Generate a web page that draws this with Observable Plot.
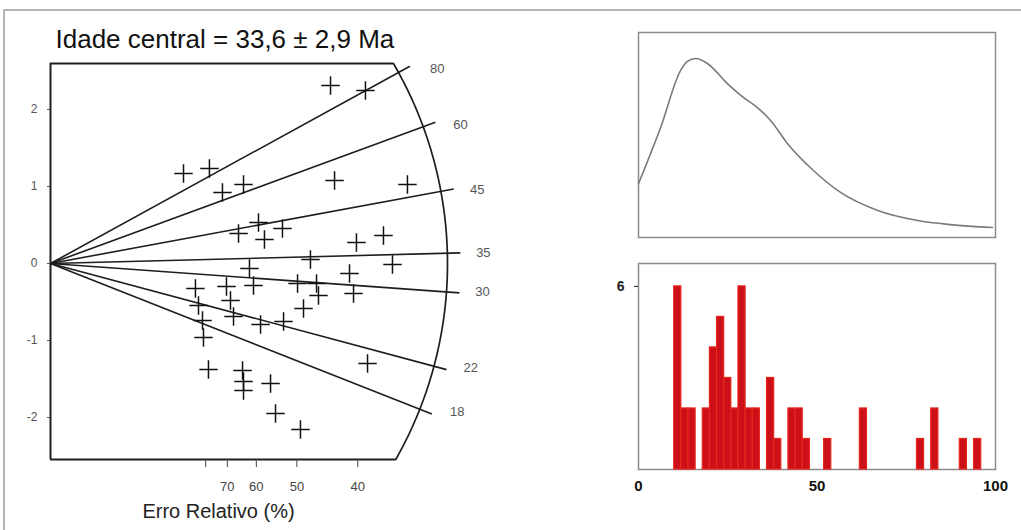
<!DOCTYPE html>
<html>
<head>
<meta charset="utf-8">
<script src="https://cdn.jsdelivr.net/npm/d3@7"></script>
<script src="https://cdn.jsdelivr.net/npm/@observablehq/plot@0.6"></script>
<style>
  html, body { margin: 0; padding: 0; background: #fff; }
  #fig { position: relative; width: 1021px; height: 530px; overflow: hidden; background: #fff;
         font-family: "Liberation Sans", Arial, sans-serif; }
  #fig .edge-top { position: absolute; left: 3px; top: 9px; right: 0; border-top: 2px solid #b4b4b4; }
  #fig .edge-left { position: absolute; left: 3px; top: 9px; bottom: 0; border-left: 2px solid #b4b4b4; }
  #fig .panel { position: absolute; }
</style>
</head>
<body>
<div id="fig"><div class="edge-top"></div><div class="edge-left"></div></div>
<script>
// ---- Radial plot: central age and labelled age rays (Ma)
const centralAge = 33.6;
const ageRays = [80, 60, 45, 35, 30, 22, 18];

// ---- Grains: precision (1 / relative error) and standardised estimate
const precision = [
  2.301, 2.588, 1.093, 1.306, 1.413, 1.586, 2.334, 2.933, 1.709, 1.545,
  1.758, 1.906, 2.514, 2.736, 2.136, 1.635, 2.810, 2.457, 1.191, 1.446,
  1.668, 2.030, 2.186, 2.202, 2.490, 1.479, 1.216, 2.079, 1.504, 1.249,
  1.726, 1.915, 1.257, 1.298, 1.578, 1.586, 1.586, 1.808, 1.849, 2.054,
  2.605
];
const zScore = [
   2.312,  2.247,  1.169,  1.234,  0.922,  1.026,  1.078,  1.026,  0.532,  0.390,
   0.312,  0.455,  0.273,  0.364,  0.052, -0.065, -0.013, -0.130, -0.325, -0.299,
  -0.286, -0.260, -0.260, -0.416, -0.390, -0.481, -0.545, -0.584, -0.688, -0.740,
  -0.792, -0.753, -0.961, -1.377, -1.390, -1.532, -1.649, -1.558, -1.948, -2.156,
  -1.299
];

// ---- Axis ticks
const zTicks = [-2, -1, 0, 1, 2];
const relErrTicks = [80, 70, 60, 50, 40];          // relative error, %
const relErrLabels = ["", "70", "60", "50", "40"];

// ---- Age histogram (2 Ma bins)
const binWidth = 2;
const binStart = [10, 12, 14, 18, 20, 22, 24, 26, 28, 30, 32, 36, 38, 42, 44, 46, 52, 62, 78, 82, 90, 94];
const binCount = [ 6,  2,  2,  2,  4,  5,  3,  2,  6,  2,  2,  3,  1,  2,  2,  1,  1,  2,  1,  2,  1,  1];

// ---- Probability density curve
const densityAge   = [0, 6.2, 11.8, 13.7, 16.0, 19.3, 24.9, 29.4, 33.3, 37.0, 41.7, 49.0, 56.6, 67.0, 78.2, 87.4, 99.2];
const densityValue = [0.263, 0.537, 0.815, 0.859, 0.873, 0.849, 0.751, 0.683, 0.634, 0.571, 0.459, 0.327, 0.220, 0.132, 0.083, 0.063, 0.049];

const fig = document.getElementById("fig");
function place(svg, left, top) {
  svg.classList.add("panel");
  svg.style.left = left + "px";
  svg.style.top = top + "px";
  fig.appendChild(svg);
}
const fontFamily = '"Liberation Sans", Arial, sans-serif';
const plain = d => String(d);

// ================= Radial plot =================
{
  const W = 520, H = 530;
  const mL = 50, mT = 63, mB = 71;
  const xDom = [0, 3.4], yDom = [-2.545, 2.597];
  const kx = 121.7;                                   // px per unit precision
  const mR = W - mL - kx * (xDom[1] - xDom[0]);
  const ky = (H - mT - mB) / (yDom[1] - yDom[0]);     // px per unit z
  const R = 397, rTick = 410, rLabel = 433;           // arc, ray end and label radii (px)
  const labelTurn = 0.93;                             // labels sit slightly closer to the horizontal

  // polar (px) -> data coordinates about the origin
  const polar = (r, a) => ({x: r * Math.cos(a) / kx, y: r * Math.sin(a) / ky});
  const aTop = Math.asin(ky * yDom[1] / R);
  const aBot = -Math.asin(-ky * yDom[0] / R);
  const arc = d3.range(0, 121).map(i => polar(R, aBot + (aTop - aBot) * i / 120));
  const cornerTop = polar(R, aTop), cornerBot = polar(R, aBot);

  const rays = ageRays.map(t => {
    const a = Math.atan(Math.log(t / centralAge) * ky / kx);
    return {t, end: polar(rTick, a), lab: polar(rLabel, a * labelTurn)};
  });
  const grains = precision.map((x, i) => ({x, y: zScore[i]}));

  const ink = "#1e1e1e";
  const svg = Plot.plot({
    width: W, height: H,
    marginLeft: mL, marginRight: mR, marginTop: mT, marginBottom: mB,
    x: {domain: xDom},
    y: {domain: yDom},
    style: {fontFamily, background: "transparent", overflow: "visible"},
    marks: [
      Plot.ruleX([0], {y1: yDom[0], y2: yDom[1], stroke: ink, strokeWidth: 2}),
      Plot.ruleY([yDom[1]], {x1: 0, x2: cornerTop.x, stroke: ink, strokeWidth: 2}),
      Plot.ruleY([yDom[0]], {x1: 0, x2: cornerBot.x, stroke: ink, strokeWidth: 2}),
      Plot.line(arc, {x: "x", y: "y", stroke: ink, strokeWidth: 1.7}),
      Plot.link(rays, {x1: 0, y1: 0, x2: d => d.end.x, y2: d => d.end.y, stroke: ink, strokeWidth: 1.6}),
      Plot.text(rays, {x: d => d.lab.x, y: d => d.lab.y, text: d => String(d.t),
                       fontSize: 13, fill: "#555", textAnchor: "middle"}),
      Plot.dot(grains, {x: "x", y: "y", symbol: "plus", r: 6, stroke: "#111", strokeWidth: 1.5}),
      Plot.axisY({ticks: zTicks, tickFormat: plain, tickSize: 3, tickPadding: 10, fontSize: 12, color: "#555", label: null}),
      Plot.axisX({
        ticks: relErrTicks.map(r => 100 / r),
        tickFormat: d => relErrLabels[relErrTicks.findIndex(r => Math.abs(100 / r - d) < 1e-9)],
        tickSize: 8, tickPadding: 14, dx: 3, fontSize: 13, color: "#444", label: null
      }),
      Plot.text(["Idade central = 33,6 ± 2,9 Ma"], {
        frameAnchor: "top-left", dx: 5, dy: -24, textAnchor: "start", lineAnchor: "middle",
        fontSize: 26, fill: "#111"
      }),
      Plot.text(["Erro Relativo (%)"], {
        frameAnchor: "bottom-left", dx: 168, dy: 52, textAnchor: "middle", lineAnchor: "middle",
        fontSize: 20, fill: "#222"
      })
    ]
  });
  place(svg, 0, 0);
}

// ================= Density curve =================
{
  const density = densityAge.map((x, i) => ({x, y: densityValue[i]}));
  const svg = Plot.plot({
    width: 421, height: 250,
    marginLeft: 38, marginRight: 26, marginTop: 32, marginBottom: 13,
    x: {domain: [0, 100], axis: null},
    y: {domain: [0, 1], axis: null},
    style: {fontFamily, background: "transparent", overflow: "visible"},
    marks: [
      Plot.frame({stroke: "#8c8c8c", strokeWidth: 1.5}),
      Plot.line(density, {x: "x", y: "y", curve: "monotone-x", stroke: "#7a7a7a", strokeWidth: 1.6})
    ]
  });
  place(svg, 600, 0);
}

// ================= Histogram =================
{
  const bins = binStart.map((x, i) => ({x1: x, x2: x + binWidth, n: binCount[i]}));
  const svg = Plot.plot({
    width: 421, height: 280,
    marginLeft: 38, marginRight: 26, marginTop: 13, marginBottom: 61,
    x: {domain: [0, 100]},
    y: {domain: [0, 6.75]},
    style: {fontFamily, fontWeight: "bold", background: "transparent", overflow: "visible"},
    marks: [
      Plot.frame({stroke: "#8c8c8c", strokeWidth: 1.5}),
      Plot.rectY(bins, {x1: "x1", x2: "x2", y: "n", fill: "#cc1018", stroke: "#e8261e", strokeWidth: 1.2}),
      Plot.axisX({ticks: [0, 50, 100], tickFormat: plain, tickSize: 0, tickPadding: 11, fontSize: 15, color: "#111", label: null}),
      Plot.axisY({ticks: [6], tickFormat: plain, tickSize: 4, tickPadding: 10, fontSize: 14, color: "#222", label: null})
    ]
  });
  place(svg, 600, 250);
}
</script>
</body>
</html>
